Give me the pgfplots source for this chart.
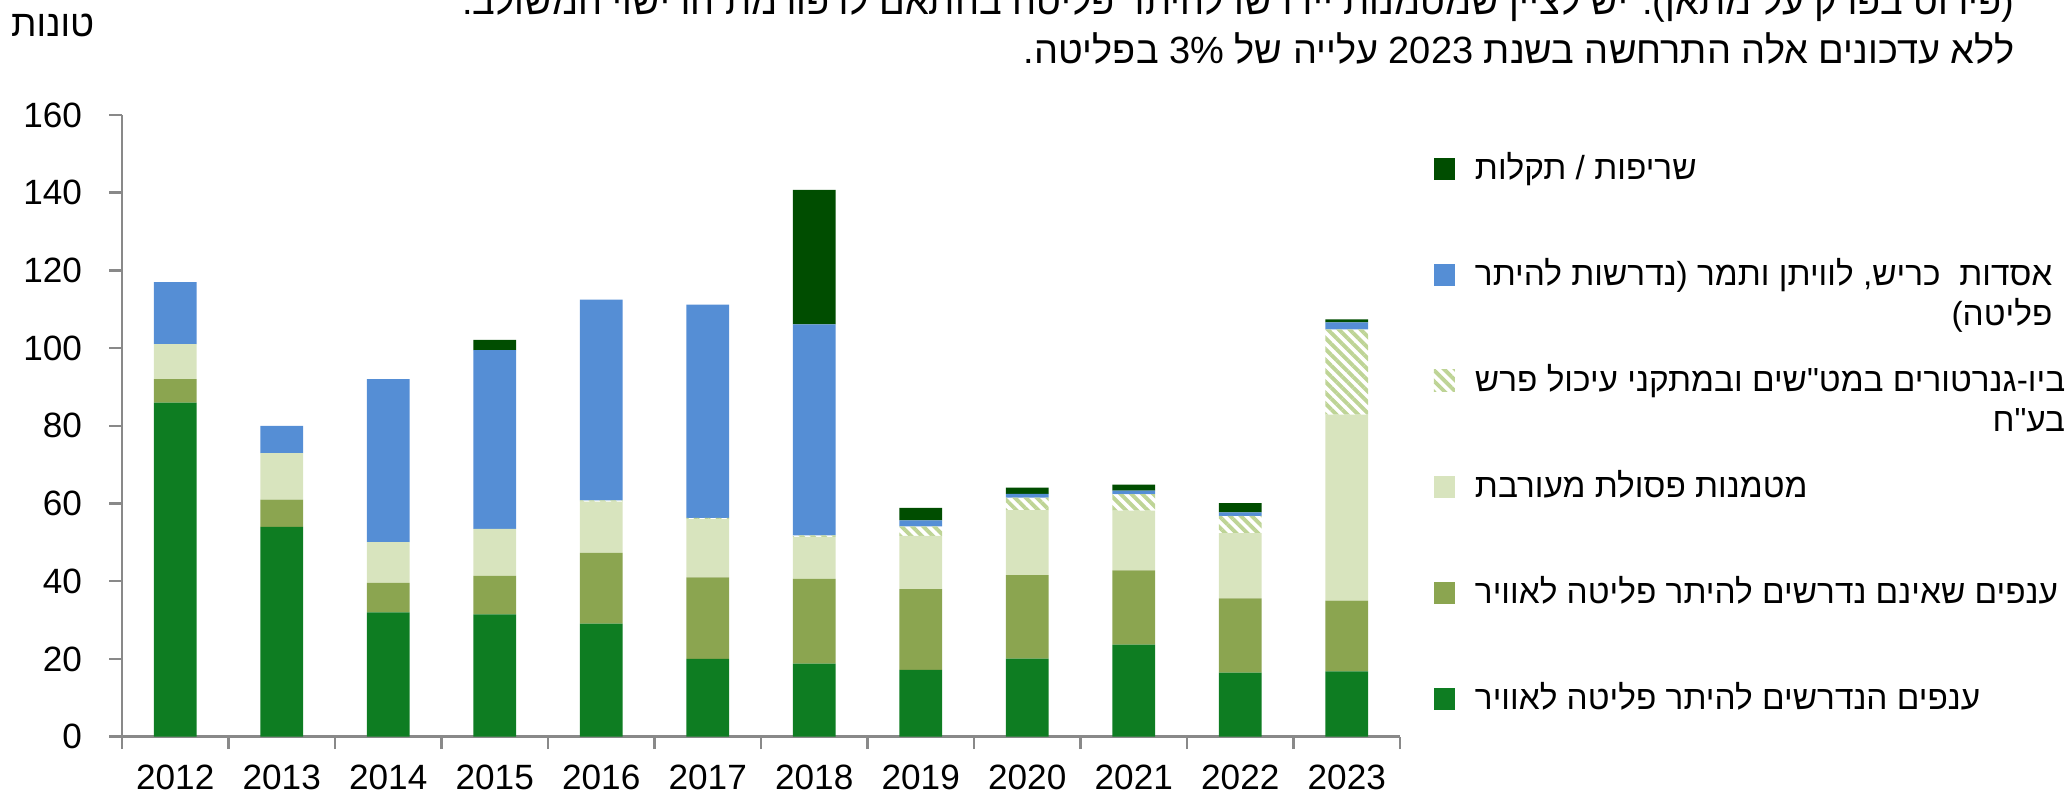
\documentclass[border=0pt]{standalone}
\usepackage{fontspec}
\setmainfont{Liberation Sans}
\newfontfamily\hebfont[Script=Hebrew]{Liberation Sans}
\TeXXeTstate=1
\usepackage{pgfplots}
\usepackage{pgfplotstable}
\pgfplotsset{compat=1.18}
\usetikzlibrary{patterns.meta}
\definecolor{cGreen}{RGB}{14,125,34}
\definecolor{cOlive}{RGB}{139,165,80}
\definecolor{cLight}{RGB}{216,228,190}
\definecolor{cHatch}{RGB}{190,212,150}
\definecolor{cBlue}{RGB}{85,142,213}
\definecolor{cDark}{RGB}{0,77,0}
\definecolor{cAxis}{RGB}{137,137,137}
\newcommand{\heb}[1]{{\hebfont\beginR #1\endR}}

\pgfplotstableread{
x green olive light hatch blue dark
0 86 6 9 0 16 0
1 54 7 12 0 7 0
2 32 7.6 10.5 0 41.9 0
3 31.5 9.9 12.1 0 46 2.6
4 29.1 18.2 13.2 0.3 51.7 0
5 20 21 15 0.3 54.9 0
6 18.8 21.8 10.8 0.4 54.3 34.6
7 17.2 20.8 13.7 2.4 1.6 3.2
8 20.1 21.5 16.7 3.2 1.0 1.6
9 23.7 19.1 15.4 4.2 0.9 1.6
10 16.5 19.1 16.8 4.4 0.9 2.4
11 16.8 18.2 47.9 21.9 1.8 0.8
}\datatable

\begin{document}
\begin{tikzpicture}[font=\fontsize{10}{12}\selectfont]
\useasboundingbox (0,0) rectangle (20.67cm,7.95cm);
\begin{axis}[
  at={(1.22cm,0.583cm)}, anchor=south west,
  scale only axis, width=12.78cm, height=6.217cm,
  ybar stacked, bar width=0.40,
  xmin=-0.5, xmax=11.5, ymin=0, ymax=160,
  xtick={-0.5,0.5,...,11.5}, xticklabels={},
  extra x ticks={0,1,...,11},
  extra x tick labels={2012,2013,2014,2015,2016,2017,2018,2019,2020,2021,2022,2023},
  extra x tick style={major tick length=0pt},
  ytick={0,20,...,160},
  axis x line*=bottom, axis y line*=left,
  axis line style={cAxis, line width=0.7pt},
  tick align=outside,
  major tick length=1.25mm,
  tick style={cAxis, line width=0.7pt},
  /pgf/number format/assume math mode=true,
  tick label style={font=\fontsize{10}{12}\selectfont},
  yticklabel style={xshift=-4.3pt},
  xticklabel style={yshift=-4.6pt},
  reverse legend,
  legend image code/.code={\fill[#1] (0mm,0mm) rectangle (2.1mm,2.2mm);},
  legend style={at={(1.026,0.9775)}, anchor=north west, draw=none, fill=none,
    inner sep=0pt, row sep=0pt, column sep=2mm,
    font=\fontsize{9.5}{11.2}\selectfont,
    nodes={inner sep=0pt, text height=0.5cm, text depth=0.56cm},
    cells={anchor=base west}},
]
\addplot[draw=none, fill=cGreen] table[x=x, y=green] {\datatable};
\addlegendentry{\heb{ענפים הנדרשים להיתר פליטה לאוויר}}
\addplot[draw=none, fill=cOlive] table[x=x, y=olive] {\datatable};
\addlegendentry{\heb{ענפים שאינם נדרשים להיתר פליטה לאוויר}}
\addplot[draw=none, fill=cLight] table[x=x, y=light] {\datatable};
\addlegendentry{\heb{מטמנות פסולת מעורבת}}
\addplot[draw=none, pattern={Lines[angle=-45,distance=2.2pt,line width=1.1pt]}, pattern color=cHatch] table[x=x, y=hatch] {\datatable};
\addlegendentry{\begin{tabular}[t]{@{}r@{}}\heb{ביו-גנרטורים במט"שים ובמתקני עיכול פרש}\\ \heb{בע"ח}\end{tabular}}
\addplot[draw=none, fill=cBlue] table[x=x, y=blue] {\datatable};
\addlegendentry{\begin{tabular}[t]{@{}r@{}}\heb{אסדות\ \ כריש, לוויתן ותמר (נדרשות להיתר}\\ \heb{פליטה)}\end{tabular}}
\addplot[draw=none, fill=cDark] table[x=x, y=dark] {\datatable};
\addlegendentry{\heb{שריפות / תקלות}}
\end{axis}
\node[anchor=base east, inner sep=0pt, font=\fontsize{10.5}{12}\selectfont] at (0.95cm,7.58cm) {\heb{טונות}};
\node[anchor=base east, inner sep=0pt, font=\fontsize{10.8}{12}\selectfont] at (20.15cm,7.80cm) {\heb{(פירוט בפרק על מתאן). יש לציין שמטמנות יידרשו להיתר פליטה בהתאם לרפורמת הרישוי המשולב.}};
\node[anchor=base east, inner sep=0pt, font=\fontsize{10.8}{12}\selectfont] at (20.15cm,7.31cm) {\heb{ללא עדכונים אלה התרחשה בשנת 2023 עלייה של \beginL3\%\endL{} בפליטה.}};
\end{tikzpicture}
\end{document}
